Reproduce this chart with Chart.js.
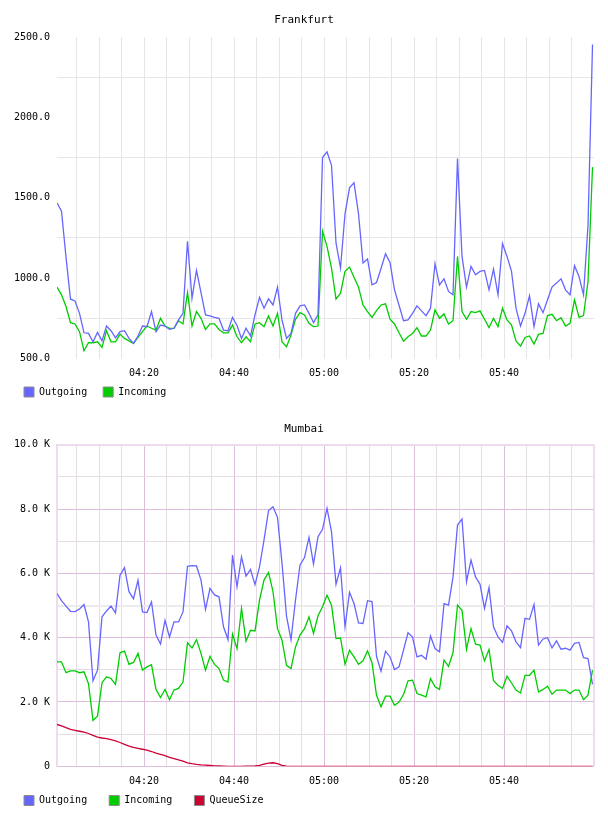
<!DOCTYPE html>
<html>
<head>
<meta charset="utf-8">
<script src="https://cdn.jsdelivr.net/npm/chart.js@4.4.1/dist/chart.umd.min.js"></script>
<style>
  html, body { margin: 0; padding: 0; background: #fff; }
  canvas { position: absolute; left: 0; }
  #frankfurt { top: 0; }
  #mumbai { top: 410px; }
</style>
</head>
<body>
<canvas id="frankfurt" width="608" height="410" style="width:608px;height:410px"></canvas>
<canvas id="mumbai" width="608" height="406" style="width:608px;height:406px"></canvas>
<script>
// one sample per minute, first sample at about 04:00:39
const firstSampleOffset = 0.65;
const plotSpan = 119.33;

const frankfurtOutgoing = [
  1469, 1417, 1131, 869, 858, 781, 660, 656, 604, 662,
  610, 702, 673, 629, 667, 673, 625, 594, 640, 702,
  698, 792, 667, 708, 702, 681, 688, 740, 781, 1229,
  875, 1048, 910, 771, 765, 756, 750, 677, 673, 756,
  705, 625, 688, 640, 771, 881, 813, 871, 833, 944,
  740, 625, 656, 781, 827, 833, 781, 723, 771, 1750,
  1785, 1702, 1219, 1063, 1400, 1562, 1594, 1400, 1094, 1119,
  958, 973, 1060, 1152, 1098, 927, 831, 735, 740, 781,
  827, 796, 767, 813, 1090, 958, 996, 917, 896, 1744,
  1135, 944, 1073, 1021, 1042, 1048, 927, 1056, 896, 1215,
  1135, 1042, 813, 702, 781, 890, 698, 840, 785, 865,
  944, 969, 996, 927, 896, 1077, 1010, 896, 1330, 2454
];
const frankfurtIncoming = [
  944, 896, 823, 723, 715, 667, 548, 598, 598, 604,
  569, 673, 604, 604, 652, 625, 610, 594, 631, 667,
  702, 688, 677, 750, 702, 688, 688, 735, 715, 910,
  702, 792, 750, 681, 715, 715, 681, 660, 660, 708,
  635, 598, 635, 604, 715, 723, 698, 765, 702, 781,
  604, 573, 646, 744, 785, 771, 719, 698, 702, 1292,
  1198, 1063, 869, 906, 1042, 1069, 1006, 944, 833, 792,
  756, 798, 833, 840, 744, 715, 660, 608, 635, 656,
  692, 640, 640, 677, 802, 750, 777, 715, 735, 1135,
  792, 744, 792, 785, 796, 744, 692, 750, 698, 813,
  740, 708, 610, 577, 631, 640, 590, 650, 656, 767,
  775, 735, 754, 702, 719, 865, 756, 767, 979, 1691
];

const mumbaiOutgoing = [
  5370, 5150, 4980, 4820, 4810, 4890, 5030, 4490, 2660, 2990,
  4650, 4830, 4980, 4770, 5940, 6180, 5430, 5210, 5790, 4800,
  4780, 5110, 4080, 3800, 4540, 4020, 4490, 4490, 4800, 6220,
  6240, 6230, 5790, 4880, 5530, 5330, 5270, 4340, 3940, 6570,
  5580, 6510, 5910, 6120, 5650, 6200, 7030, 7950, 8070, 7740,
  6310, 4670, 3940, 5170, 6260, 6490, 7120, 6290, 7140, 7370,
  8020, 7290, 5660, 6170, 4340, 5410, 5060, 4460, 4440, 5150,
  5120, 3420, 2960, 3580, 3400, 3010, 3090, 3610, 4150, 4020,
  3400, 3450, 3330, 4050, 3660, 3560, 5060, 5010, 5890, 7500,
  7690, 5740, 6410, 5890, 5660, 4910, 5560, 4340, 4020, 3850,
  4370, 4210, 3870, 3690, 4600, 4570, 5030, 3770, 3960, 4000,
  3680, 3900, 3640, 3670, 3610, 3820, 3850, 3380, 3350, 2550
];
const mumbaiIncoming = [
  3250, 3250, 2910, 2970, 2970, 2910, 2940, 2570, 1430, 1560,
  2600, 2780, 2730, 2550, 3530, 3580, 3170, 3230, 3510, 2990,
  3090, 3160, 2390, 2140, 2390, 2070, 2370, 2420, 2620, 3840,
  3680, 3940, 3510, 2990, 3420, 3170, 3040, 2680, 2620, 4110,
  3660, 4910, 3890, 4230, 4210, 5170, 5790, 6030, 5430, 4280,
  3920, 3140, 3040, 3710, 4080, 4280, 4650, 4130, 4680, 4960,
  5320, 5010, 3970, 3990, 3170, 3610, 3400, 3170, 3280, 3590,
  3220, 2210, 1850, 2180, 2180, 1900, 2000, 2230, 2660, 2680,
  2260, 2210, 2160, 2730, 2470, 2390, 3300, 3110, 3530, 5010,
  4850, 3640, 4280, 3800, 3770, 3280, 3630, 2660, 2520, 2420,
  2800, 2590, 2370, 2280, 2830, 2830, 2990, 2310, 2390, 2490,
  2240, 2370, 2370, 2370, 2260, 2370, 2370, 2070, 2210, 2990
];
const mumbaiQueueSize = [
  1300, 1260, 1200, 1150, 1120, 1090, 1060, 1020, 960, 910,
  880, 860, 830, 790, 740, 680, 630, 590, 560, 530,
  500, 460, 410, 370, 330, 280, 240, 200, 160, 110,
  80, 60, 45, 35, 25, 15, 10, 5, 0, 0,
  0, 0, 5, 5, 10, 30, 70, 100, 110, 80,
  30, 5, 0, 0, 0, 0, 0, 0, 0, 0,
  0, 0, 0, 0, 0, 0, 0, 0, 0, 0,
  0, 0, 0, 0, 0, 0, 0, 0, 0, 0,
  0, 0, 0, 0, 0, 0, 0, 0, 0, 0,
  0, 0, 0, 0, 0, 0, 0, 0, 0, 0,
  0, 0, 0, 0, 0, 0, 0, 0, 0, 0,
  0, 0, 0, 0, 0, 0, 0, 0, 0, 0
];

// grid every 5 minutes (minutes after 04:00), label every 20
const gridMinutes = [5, 10, 15, 20, 25, 30, 35, 40, 45, 50, 55, 60,
  65, 70, 75, 80, 85, 90, 95, 100, 105, 110, 115];

const MONO = "'DejaVu Sans Mono', monospace";
const BLUE = '#6666ff';
const GREEN = '#00cc00';
const RED = '#cc0033';

function hhmm(m) {
  const h = 4 + Math.floor(m / 60);
  const mm = m % 60;
  return String(h).padStart(2, '0') + ':' + String(mm).padStart(2, '0');
}

function minuteOf(v) {
  return Math.round(v + firstSampleOffset);
}

function isEdge(v) {
  return v <= 0 || v >= plotSpan;
}

function points(values) {
  return values.map((v, i) => ({ x: i, y: v }));
}

function line(label, values, color) {
  return {
    label: label,
    data: points(values),
    borderColor: color,
    backgroundColor: color,
    borderWidth: 1.3,
    pointRadius: 0,
    tension: 0,
    fill: false
  };
}

function xScale(gridColor, gridWidth, height, pad) {
  return {
    type: 'linear',
    min: 0,
    max: plotSpan,
    afterBuildTicks: (s) => {
      s.ticks = [{ value: 0 }]
        .concat(gridMinutes.map((m) => ({ value: m - firstSampleOffset })))
        .concat([{ value: plotSpan }]);
    },
    afterFit: (s) => { s.height = height; },
    ticks: {
      autoSkip: false,
      maxRotation: 0,
      minRotation: 0,
      padding: pad,
      color: '#000',
      font: { family: MONO, size: 10 },
      callback: (v) => {
        const m = minuteOf(v);
        return (!isEdge(v) && m % 20 === 0) ? hhmm(m) : '';
      }
    },
    grid: { drawTicks: false, color: gridColor, lineWidth: gridWidth },
    border: { display: false }
  };
}

// gap between legend entries = padding + trailing spaces
function legendOpts(gap) {
  return {
    position: 'bottom',
    align: 'start',
    labels: {
      boxWidth: 10,
      boxHeight: 10,
      padding: 10,
      color: '#000',
      font: { family: MONO, size: 10 },
      generateLabels: (chart) => chart.data.datasets.map((d, i) => ({
        text: d.label + gap,
        fillStyle: d.borderColor,
        strokeStyle: '#8c8c8c',
        lineWidth: 1,
        hidden: false,
        datasetIndex: i
      }))
    }
  };
}

function titleOpts(text, top, bottom) {
  return {
    display: true,
    text: text,
    color: '#000',
    font: { family: MONO, size: 11, weight: 'normal' },
    padding: { top: top, bottom: bottom }
  };
}

new Chart(document.getElementById('frankfurt'), {
  type: 'line',
  data: {
    datasets: [
      line('Outgoing', frankfurtOutgoing, BLUE),
      line('Incoming', frankfurtIncoming, GREEN)
    ]
  },
  options: {
    responsive: false,
    animation: false,
    events: [],
    layout: { padding: { left: 14, right: 14, top: 0, bottom: 3 } },
    plugins: {
      title: titleOpts('Frankfurt', 14, 9.8),
      legend: legendOpts(' '),
      tooltip: { enabled: false }
    },
    scales: {
      x: xScale((ctx) => isEdge(ctx.tick.value) ? 'rgba(0,0,0,0)' : '#e6e6e6', 1, 18.5, 9),
      y: {
        min: 500,
        max: 2500,
        afterFit: (s) => { s.width = 43; },
        ticks: {
          stepSize: 250,
          padding: 7,
          color: '#000',
          font: { family: MONO, size: 10 },
          callback: (v) => v % 500 === 0 ? v.toFixed(1) : ''
        },
        grid: {
          drawTicks: false,
          color: (ctx) => ctx.tick.value % 500 === 0 ? 'rgba(0,0,0,0)' : '#e6e6e6'
        },
        border: { display: false }
      }
    }
  }
});

const EDGE = '#eedcee';
const MAJOR = '#dcbedc';
const MINOR = '#e4dee4';

new Chart(document.getElementById('mumbai'), {
  type: 'line',
  data: {
    datasets: [
      line('Outgoing', mumbaiOutgoing, BLUE),
      line('Incoming', mumbaiIncoming, GREEN),
      line('QueueSize', mumbaiQueueSize, RED)
    ]
  },
  options: {
    responsive: false,
    animation: false,
    events: [],
    layout: { padding: { left: 14, right: 14, top: 0, bottom: 0.5 } },
    plugins: {
      title: titleOpts('Mumbai', 12.4, 9.1),
      legend: legendOpts('  '),
      tooltip: { enabled: false }
    },
    scales: {
      x: xScale(
        (ctx) => {
          const v = ctx.tick.value;
          if (isEdge(v)) return EDGE;
          return minuteOf(v) % 20 === 0 ? MAJOR : MINOR;
        },
        (ctx) => isEdge(ctx.tick.value) ? 2 : 1,
        19.2, 9.4),
      y: {
        min: 0,
        max: 10000,
        afterFit: (s) => { s.width = 43; },
        ticks: {
          stepSize: 1000,
          padding: 7,
          color: '#000',
          font: { family: MONO, size: 10 },
          callback: (v) => {
            if (v % 2000 !== 0) return '';
            return v === 0 ? '0' : (v / 1000).toFixed(1) + ' K';
          }
        },
        grid: {
          drawTicks: false,
          color: (ctx) => {
            const v = ctx.tick.value;
            if (v === 10000) return EDGE;
            if (v === 5000) return '#ebebeb';
            return v % 2000 === 0 ? MAJOR : MINOR;
          },
          lineWidth: (ctx) => (ctx.tick.value === 10000 || ctx.tick.value === 5000) ? 2 : 1
        },
        border: { display: true, color: EDGE, width: 2 }
      }
    }
  }
});
</script>
</body>
</html>
